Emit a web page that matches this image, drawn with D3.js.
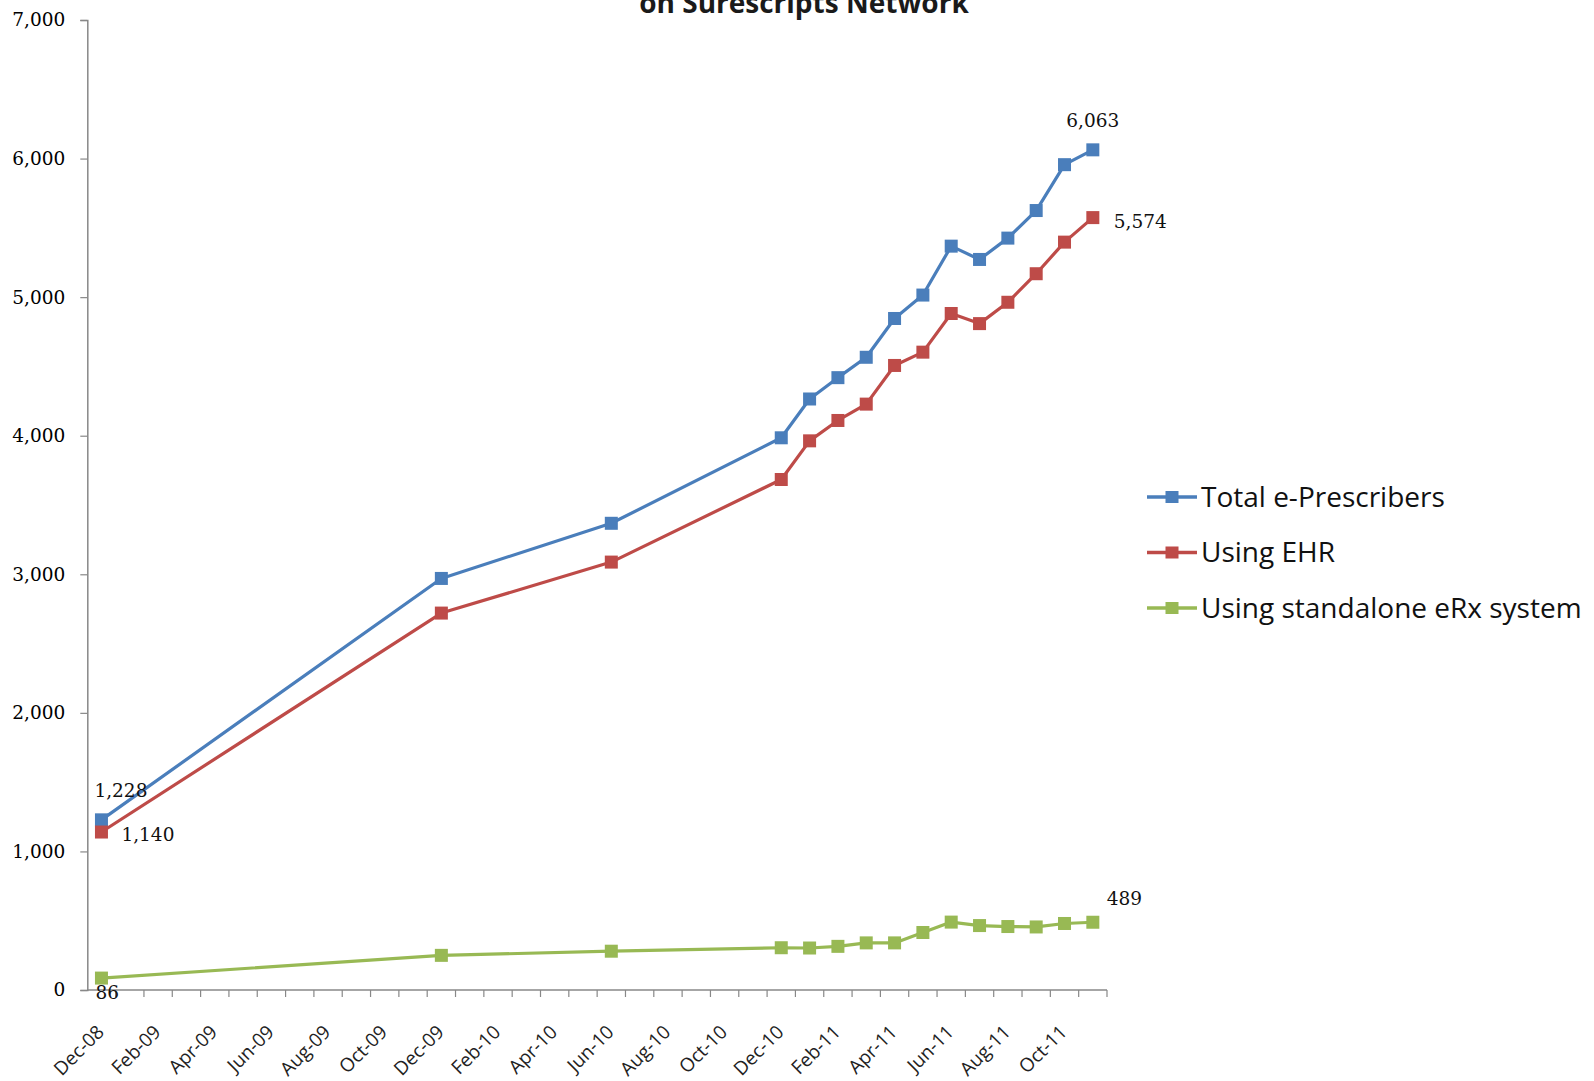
<!DOCTYPE html>
<html>
<head>
<meta charset="utf-8">
<script src="https://cdn.jsdelivr.net/npm/d3@7"></script>
<style>
  body { margin: 0; background: #fff; }
  svg { display: block; }
</style>
</head>
<body>
<div id="chart"></div>
<script>
// Data
const pointMonths = ['Dec-08', 'Dec-09', 'Jun-10', 'Dec-10', 'Jan-11', 'Feb-11', 'Mar-11',
  'Apr-11', 'May-11', 'Jun-11', 'Jul-11', 'Aug-11', 'Sep-11', 'Oct-11', 'Nov-11'];
const totalValues = [1228, 2970, 3368, 3985, 4265, 4419, 4566, 4846, 5015, 5368, 5272, 5426, 5625, 5956, 6063];
const ehrValues = [1140, 2720, 3088, 3684, 3963, 4110, 4228, 4507, 4603, 4882, 4809, 4963, 5169, 5397, 5574];
const standaloneValues = [86, 250, 280, 305, 303, 315, 340, 340, 415, 490, 465, 458, 455, 480, 489];
const seriesNames = ['Total e-Prescribers', 'Using EHR', 'Using standalone eRx system'];
const xTickLabels = ['Dec-08', 'Feb-09', 'Apr-09', 'Jun-09', 'Aug-09', 'Oct-09', 'Dec-09', 'Feb-10',
  'Apr-10', 'Jun-10', 'Aug-10', 'Oct-10', 'Dec-10', 'Feb-11', 'Apr-11', 'Jun-11', 'Aug-11', 'Oct-11'];
const yTickValues = [0, 1000, 2000, 3000, 4000, 5000, 6000, 7000];

const colors = ['#4a7ebb', '#be4b48', '#98b954'];

///////// Initialization //////////
const width = 1594;
const height = 1081;
const plot = { left: 87.3, right: 1107, top: 20, bottom: 990 };

const svg = d3.select('#chart')
  .append('svg')
  .attr('width', width)
  .attr('height', height);

svg.append('rect').attr('width', width).attr('height', height).attr('fill', '#fff');

// One band per month, Dec-08 through Nov-11
const fmt = d3.timeFormat('%b-%y');
const allMonths = d3.timeMonth.range(new Date(2008, 11, 1), new Date(2011, 11, 1)).map(fmt);

const xScale = d3.scaleBand().domain(allMonths).range([plot.left, plot.right]).padding(0);
const yScale = d3.scaleLinear().domain([0, 7000]).range([plot.bottom, plot.top]);
const xMid = (m) => xScale(m) + xScale.bandwidth() / 2;

// Title (only its second line shows, cut at the top edge as in the original)
svg.append('text')
  .attr('x', 804)
  .attr('y', 12.5)
  .attr('text-anchor', 'middle')
  .attr('font-family', 'Open Sans')
  .attr('font-weight', 'bold')
  .attr('font-size', 28)
  .attr('fill', '#1a1a1a')
  .text('on Surescripts Network');

// Y axis
const yAxis = d3.axisLeft(yScale)
  .tickValues(yTickValues)
  .tickSize(7)
  .tickFormat(d3.format(','));
const yAxisGroup = svg.append('g')
  .attr('transform', 'translate(' + plot.left + ',0)')
  .call(yAxis);
yAxisGroup.select('.domain').attr('stroke', '#888').attr('stroke-width', 1.5);
yAxisGroup.selectAll('.tick line').attr('stroke', '#888').attr('stroke-width', 1.2);
yAxisGroup.selectAll('.tick text')
  .attr('x', -22)
  .attr('font-family', 'DejaVu Serif')
  .attr('font-size', 18.5)
  .attr('fill', '#000');

// X axis: line, monthly ticks at band edges, labels every other month
svg.append('line')
  .attr('x1', plot.left).attr('x2', plot.right)
  .attr('y1', plot.bottom).attr('y2', plot.bottom)
  .attr('stroke', '#888').attr('stroke-width', 1.5);

svg.append('g')
  .selectAll('line')
  .data(allMonths.slice(1).concat(['end']))
  .join('line')
  .attr('x1', (d) => (d === 'end' ? plot.right : xScale(d)))
  .attr('x2', (d) => (d === 'end' ? plot.right : xScale(d)))
  .attr('y1', plot.bottom)
  .attr('y2', plot.bottom + 7)
  .attr('stroke', '#888')
  .attr('stroke-width', 1.2);

svg.append('g')
  .selectAll('text')
  .data(xTickLabels)
  .join('text')
  .attr('transform', (d) => 'translate(' + (xMid(d) - 1) + ',' + (plot.bottom + 38.5) + ') rotate(-45)')
  .attr('text-anchor', 'end')
  .attr('dy', '0.35em')
  .attr('font-family', 'Open Sans')
  .attr('font-size', 19)
  .attr('fill', '#222')
  .text((d) => d);

// Lines and square markers
const seriesValues = [totalValues, ehrValues, standaloneValues];
const line = d3.line()
  .x((d) => xMid(d.month))
  .y((d) => yScale(d.value));

seriesValues.forEach((values, i) => {
  const data = values.map((v, j) => ({ month: pointMonths[j], value: v }));
  svg.append('path')
    .datum(data)
    .attr('fill', 'none')
    .attr('stroke', colors[i])
    .attr('stroke-width', 3.2)
    .attr('stroke-linejoin', 'round')
    .attr('d', line);
  svg.append('g')
    .selectAll('rect')
    .data(data)
    .join('rect')
    .attr('x', (d) => xMid(d.month) - 6.5)
    .attr('y', (d) => yScale(d.value) - 6.5)
    .attr('width', 13)
    .attr('height', 13)
    .attr('fill', colors[i]);
});

// Data labels on first and last points
const dataLabels = [
  { s: 0, j: 0, dx: -7, dy: -23, anchor: 'start' },
  { s: 1, j: 0, dx: 20, dy: 9, anchor: 'start' },
  { s: 2, j: 0, dx: -6, dy: 21, anchor: 'start' },
  { s: 0, j: 14, dx: 0, dy: -23, anchor: 'middle' },
  { s: 1, j: 14, dx: 21, dy: 10, anchor: 'start' },
  { s: 2, j: 14, dx: 14, dy: -17, anchor: 'start' }
];
svg.append('g')
  .selectAll('text')
  .data(dataLabels)
  .join('text')
  .attr('x', (d) => xMid(pointMonths[d.j]) + d.dx)
  .attr('y', (d) => yScale(seriesValues[d.s][d.j]) + d.dy)
  .attr('text-anchor', (d) => d.anchor)
  .attr('font-family', 'DejaVu Serif')
  .attr('font-size', 18.5)
  .attr('fill', '#111')
  .text((d) => d3.format(',')(seriesValues[d.s][d.j]));

// Legend
const legend = svg.append('g').attr('transform', 'translate(1147,497)');
seriesNames.forEach((name, i) => {
  const row = legend.append('g').attr('transform', 'translate(0,' + i * 55.5 + ')');
  row.append('line')
    .attr('x1', 0).attr('x2', 50)
    .attr('stroke', colors[i]).attr('stroke-width', 3.3);
  row.append('rect')
    .attr('x', 18.5).attr('y', -6).attr('width', 13).attr('height', 12)
    .attr('fill', colors[i]);
  row.append('text')
    .attr('x', 54)
    .attr('dy', '0.35em')
    .attr('font-family', 'Open Sans')
    .attr('font-size', 28)
    .attr('fill', '#111')
    .text(name);
});
</script>
</body>
</html>
